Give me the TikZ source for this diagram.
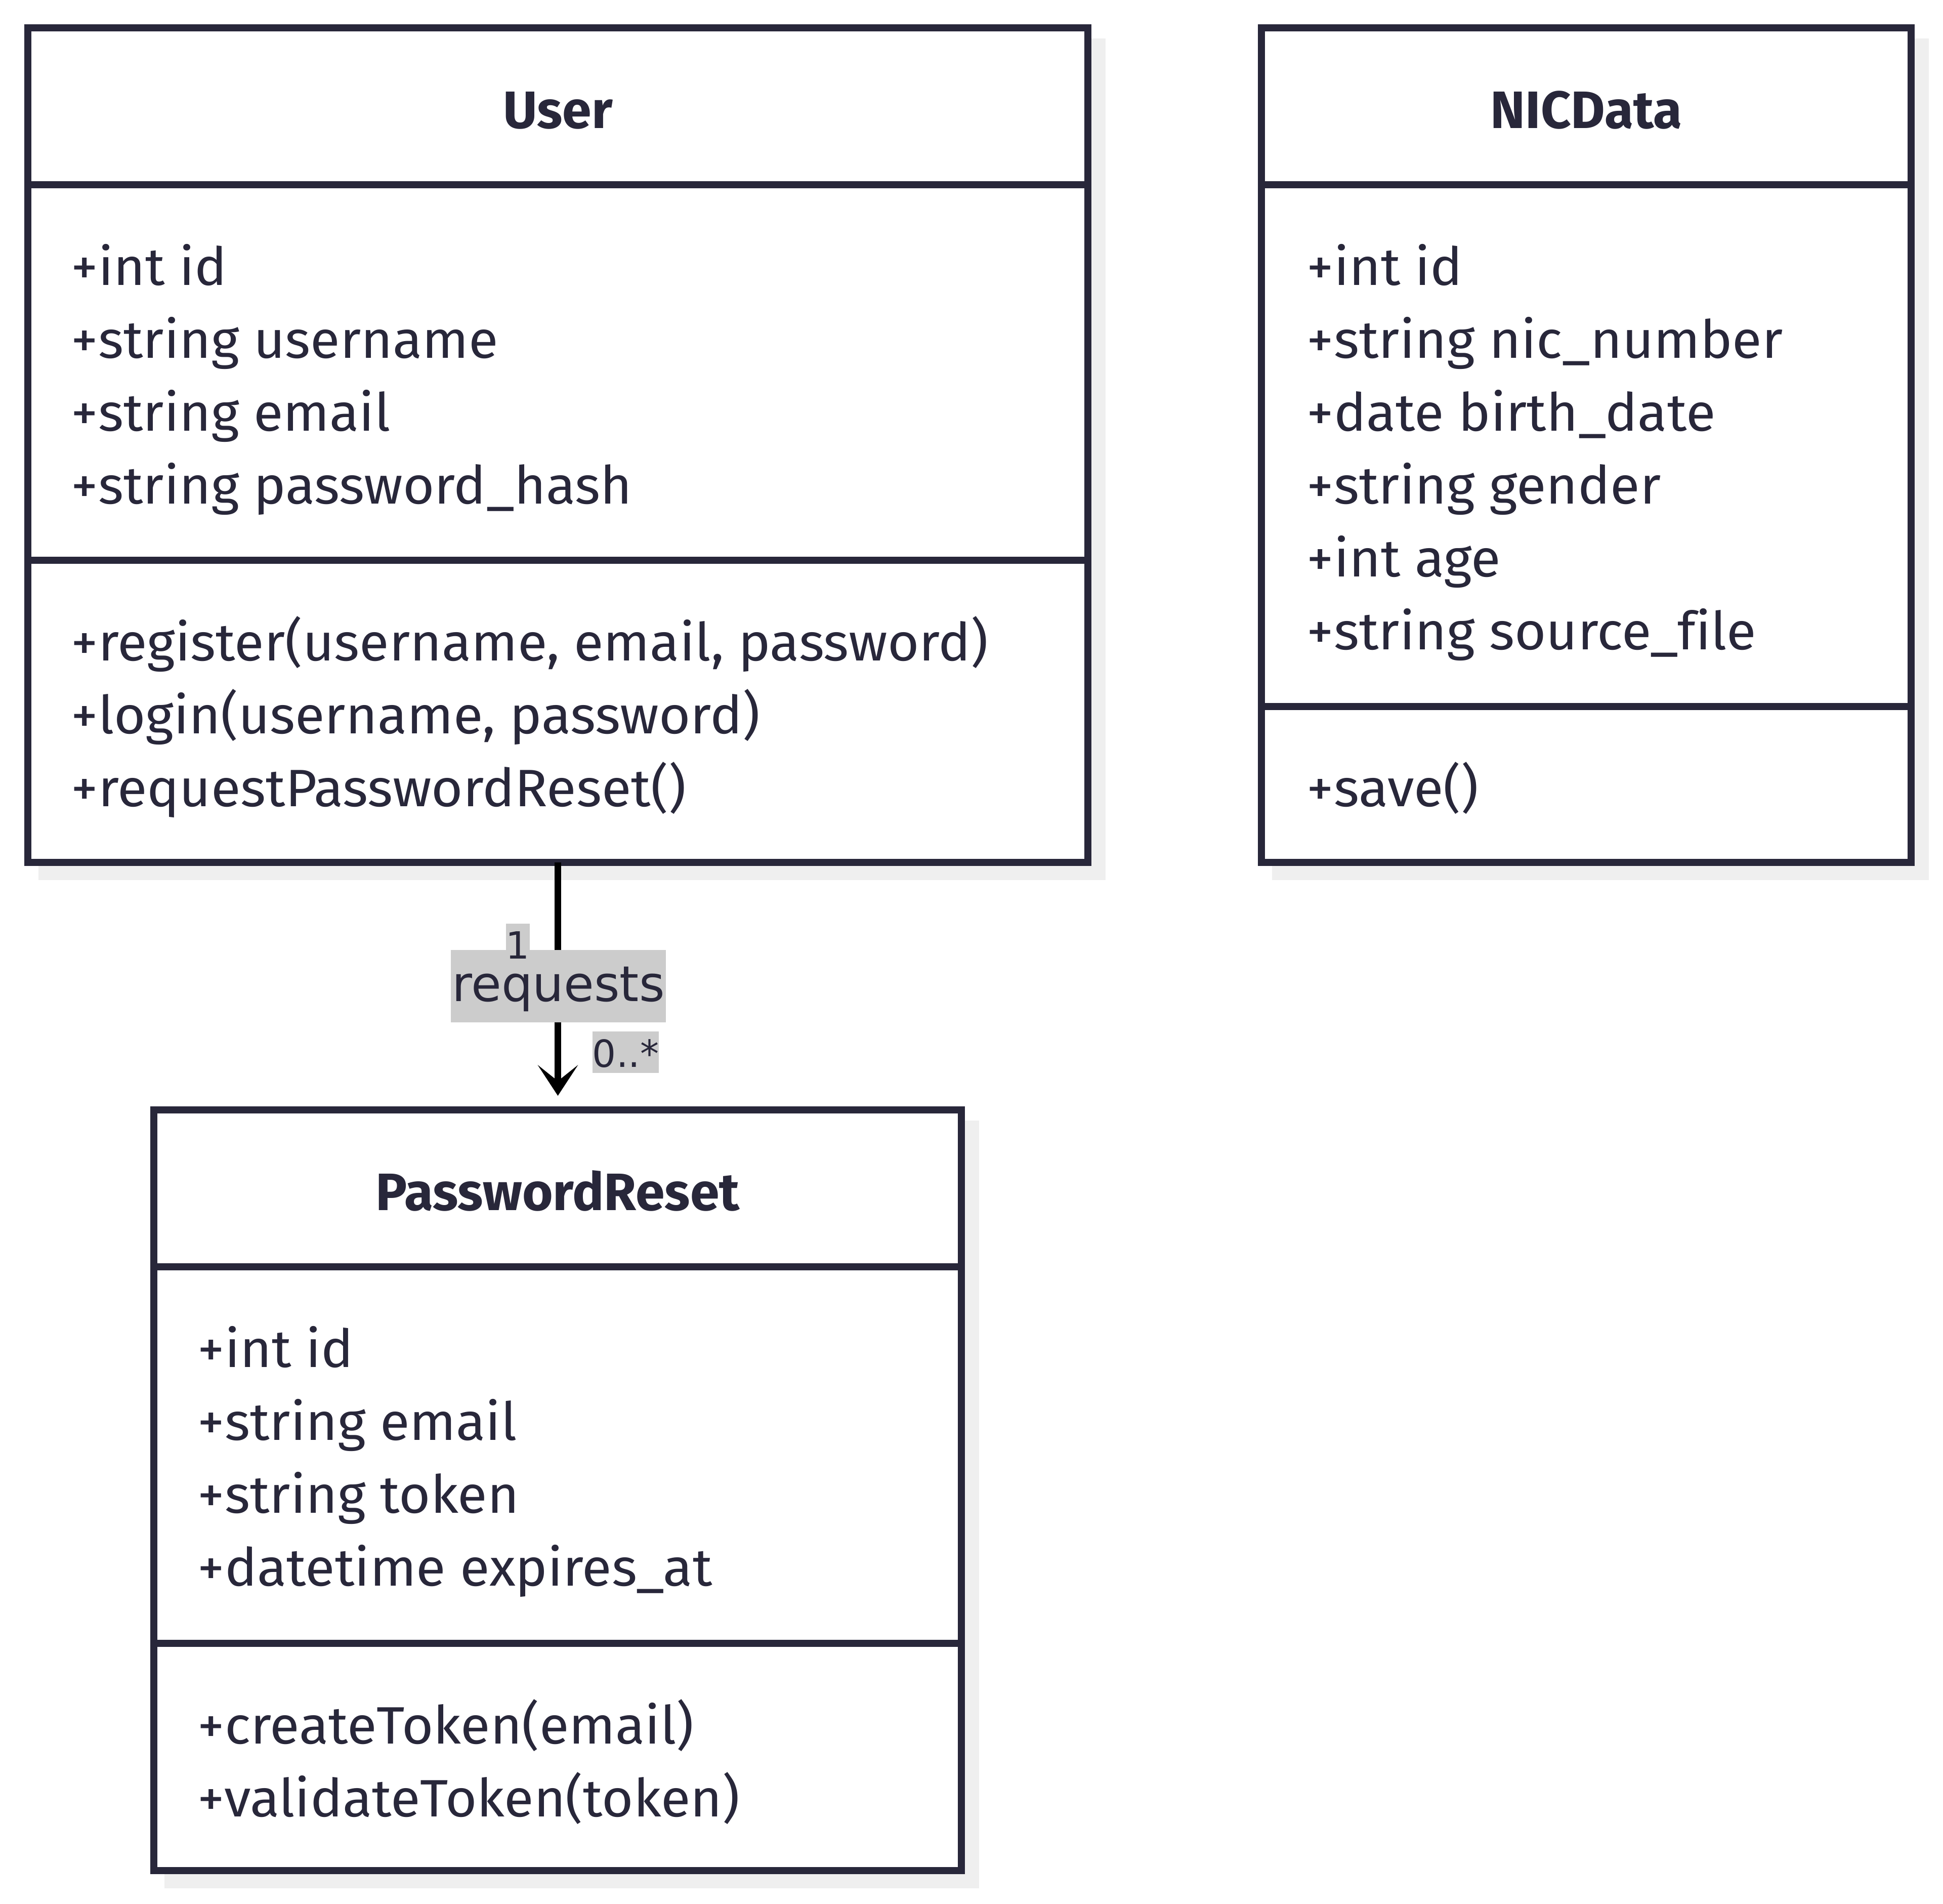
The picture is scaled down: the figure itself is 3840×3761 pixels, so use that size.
\documentclass[tikz,border=0pt]{standalone}
\usepackage{fontspec}
\setmainfont{Fira Sans}
\newfontfamily\memberfont[FakeStretch=1.03, Ligatures=NoCommon]{Fira Sans}
\newfontfamily\labelfont{DejaVu Sans}
\usetikzlibrary{arrows.meta,backgrounds}
\definecolor{ink}{RGB}{40,39,58}
\definecolor{shade}{RGB}{239,239,239}
\definecolor{labelbg}{RGB}{204,204,204}
\tikzset{
 classbox/.style={draw=ink, line width=3.4pt, fill=white, rectangle, inner sep=0pt, outer sep=0pt, anchor=north west},
 divider/.style={draw=ink, line width=3.4pt},
 member/.style={anchor=base west, inner sep=0pt, text=ink, font=\memberfont\fontsize{26pt}{30pt}\selectfont},
 classtitle/.style={anchor=base, inner sep=0pt, text=ink, font=\fontsize{26pt}{30pt}\selectfont\bfseries},
 shadowbox/.style={draw=shade, fill=shade, line width=3.4pt},
 assoc/.style={draw=black, line width=3.45pt, -{Stealth[length=15.25pt, width=20pt, inset=8pt, line width=0pt]}},
 lblbg/.style={fill=labelbg},
 lbltext/.style={anchor=base, inner sep=0pt, text=ink, font=\labelfont\fontsize{24.3pt}{28pt}\selectfont},
 multtext/.style={anchor=base, inner sep=0pt, text=ink, font=\labelfont\fontsize{18.5pt}{22pt}\selectfont},
}
\begin{document}
\begin{tikzpicture}[x=0.25pt,y=-0.25pt]
\useasboundingbox (0,0) rectangle (3840,3761);
% class boxes
\node[classbox, minimum width=523.75pt, minimum height=412.25pt] (user) at (55,55) {};
\node[classbox, minimum width=321pt, minimum height=412.25pt] (nic) at (2493,55) {};
\node[classbox, minimum width=399pt, minimum height=375.75pt] (pr) at (304,2193) {};
% shadows
\begin{scope}[on background layer]
\path[shadowbox] ([shift={(28,28)}]user.north west) rectangle ([shift={(28,28)}]user.south east);
\path[shadowbox] ([shift={(28,28)}]nic.north west) rectangle ([shift={(28,28)}]nic.south east);
\path[shadowbox] ([shift={(28,28)}]pr.north west) rectangle ([shift={(28,28)}]pr.south east);
\end{scope}
% dividers
\draw[divider] (user.west |- 0,365) -- (user.east |- 0,365);
\draw[divider] (user.west |- 0,1107) -- (user.east |- 0,1107);
\draw[divider] (nic.west |- 0,365) -- (nic.east |- 0,365);
\draw[divider] (nic.west |- 0,1396) -- (nic.east |- 0,1396);
\draw[divider] (pr.west |- 0,2503) -- (pr.east |- 0,2503);
\draw[divider] (pr.west |- 0,3247) -- (pr.east |- 0,3247);
% User
\node[classtitle] (usertitle) at (1102.5,253) {User};
\node[member] (u1) at (140,563) {+int id};
\node[member] (u2) at (140,707) {+string username};
\node[member] (u3) at (140,851) {+string email};
\node[member] (u4) at (140,995) {+string password\_hash};
\node[member] (u5) at (140,1305) {+register(username, email, password)};
\node[member] (u6) at (140,1449) {+login(username, password)};
\node[member] (u7) at (140,1593) {+requestPasswordReset()};
% NICData
\node[classtitle] (nictitle) at (3135,253) {NICData};
\node[member] (n1) at (2582,563) {+int id};
\node[member] (n2) at (2582,707) {+string nic\_number};
\node[member] (n3) at (2582,851) {+date birth\_date};
\node[member] (n4) at (2582,995) {+string gender};
\node[member] (n5) at (2582,1139) {+int age};
\node[member] (n6) at (2582,1283) {+string source\_file};
\node[member] (n7) at (2582,1593) {+save()};
% PasswordReset
\node[classtitle] (prtitle) at (1102,2391) {PasswordReset};
\node[member] (p1) at (390,2701) {+int id};
\node[member] (p2) at (390,2845) {+string email};
\node[member] (p3) at (390,2989) {+string token};
\node[member] (p4) at (390,3133) {+datetime expires\_at};
\node[member] (p5) at (390,3445) {+createToken(email)};
\node[member] (p6) at (390,3589) {+validateToken(token)};
% association
\coordinate (tip) at (1102.5,2165);
\draw[assoc] (user.south) -- (tip);
\fill[lblbg] (1000,1825) rectangle (1047,1877);
\fill[lblbg] (891,1877) rectangle (1316,2020);
\fill[lblbg] (1171,2038) rectangle (1302,2120);
\node[multtext] (mone) at (1023.5,1894) {1};
\node[lbltext] (req) at (1103.5,1978) {requests};
\node[multtext] (mmany) at (1236.5,2108) {0..*};
\end{tikzpicture}
\end{document}
